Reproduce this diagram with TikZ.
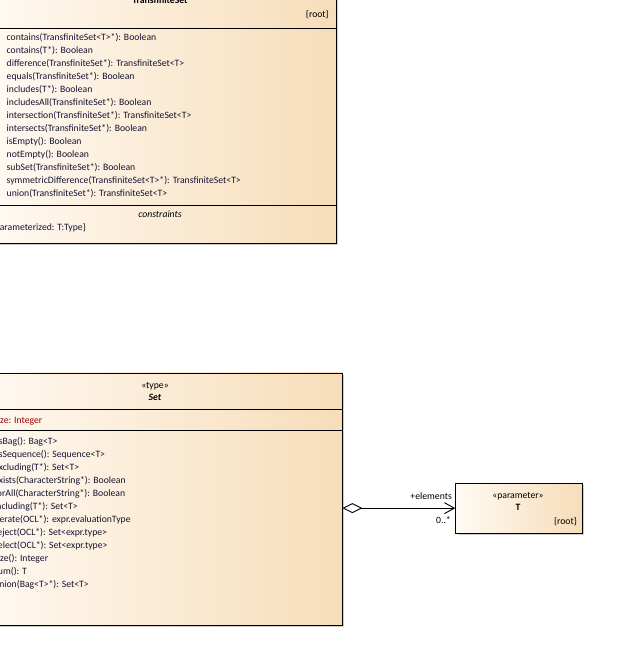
\documentclass[tikz,border=0pt]{standalone}
\usepackage{fontspec}
\setmainfont{Carlito}
\usetikzlibrary{arrows.meta,shadows}
\definecolor{boxL}{RGB}{255,250,243}
\definecolor{boxR}{RGB}{247,221,185}
\definecolor{optext}{RGB}{20,20,50}
\definecolor{attrtext}{RGB}{160,0,0}
\definecolor{shadowc}{RGB}{205,205,205}
\begin{document}
\begin{tikzpicture}[x=1pt,y=-1pt,
  umlbox/.style={draw=black,line width=0.9pt,left color=boxL,right color=boxR,
    inner sep=0pt,anchor=north west,
    drop shadow={shadow xshift=2pt,shadow yshift=-2pt,fill=shadowc,opacity=1}},
  sep/.style={draw=black,line width=0.9pt},
  basefont/.style={font=\fontsize{9.7}{11}\selectfont},
  optxt/.style={basefont,anchor=base west,inner sep=0pt,text=optext},
  attrtxt/.style={basefont,anchor=base west,inner sep=0pt,text=attrtext},
  ctrtxt/.style={basefont,anchor=base,inner sep=0pt,text=black},
  rtxt/.style={basefont,anchor=base east,inner sep=0pt,text=black},
  assoc/.style={draw=black,line width=0.9pt,
    {Diamond[open,length=20pt,width=10pt,fill=white]}-{Straight Barb[length=10pt,width=11pt]}}
]
\useasboundingbox (0,0) rectangle (635,669);
\clip (0,0) rectangle (635,669);
\fill[white] (0,0) rectangle (635,669);

% ---- TransfiniteSet box
\node[umlbox,minimum width=350.5pt,minimum height=253pt] (topbox) at (-15,-10) {};
\draw[sep] (-15,28) -- (335.5,28);
\draw[sep] (-15,205) -- (335.5,205);
\node[ctrtxt,font=\fontsize{9.7}{11}\selectfont\bfseries] (toptitle) at (160,4) {TransfiniteSet};
\node[rtxt] (toproot) at (329,18) {\{root\}};
\foreach \t [count=\i] in {contains(TransfiniteSet<T>*): Boolean,
  contains(T*): Boolean,
  difference(TransfiniteSet*): TransfiniteSet<T>,
  equals(TransfiniteSet*): Boolean,
  includes(T*): Boolean,
  includesAll(TransfiniteSet*): Boolean,
  intersection(TransfiniteSet*): TransfiniteSet<T>,
  intersects(TransfiniteSet*): Boolean,
  isEmpty(): Boolean,
  notEmpty(): Boolean,
  subSet(TransfiniteSet*): Boolean,
  symmetricDifference(TransfiniteSet<T>*): TransfiniteSet<T>,
  union(TransfiniteSet*): TransfiniteSet<T>}
  \node[optxt] (topop\i) at (6.5,{40.7+13*(\i-1)}) {\t};
\node[ctrtxt,font=\fontsize{9.7}{11}\selectfont\itshape] (topcons) at (160,217) {constraints};
\node[optxt] (topparam) at (-8.5,230) {\{parameterized: T:Type\}};

% ---- Set box
\node[umlbox,minimum width=373pt,minimum height=252pt] (setbox) at (-31.5,372.5) {};
\draw[sep] (-31.5,409.5) -- (341.5,409.5);
\draw[sep] (-31.5,430.5) -- (341.5,430.5);
\node[ctrtxt] (setster) at (155,388) {«type»};
\node[ctrtxt,font=\fontsize{9.7}{11}\selectfont\bfseries\itshape] (settitle) at (155,400.7) {Set};
\node[attrtxt] (setattr) at (-6,423) {size: Integer};
\foreach \t [count=\i] in {asBag(): Bag<T>,
  asSequence(): Sequence<T>,
  excluding(T*): Set<T>,
  exists(CharacterString*): Boolean,
  forAll(CharacterString*): Boolean,
  including(T*): Set<T>,
  iterate(OCL*): expr.evaluationType,
  reject(OCL*): Set<expr.type>,
  select(OCL*): Set<expr.type>,
  size(): Integer,
  sum(): T,
  union(Bag<T>*): Set<T>}
  \node[optxt] (setop\i) at (-6,{444+13*(\i-1)}) {\t};

% ---- T box
\node[umlbox,minimum width=126.7pt,minimum height=50pt] (tbox) at (455.3,482.7) {};
\node[ctrtxt] (tster) at (518,498) {«parameter»};
\node[ctrtxt,font=\fontsize{9.7}{11}\selectfont\bfseries] (ttitle) at (518,510.7) {T};
\node[rtxt] (troot) at (577,524) {\{root\}};

% ---- association
\draw[assoc] (setbox.east |- tbox.west) -- (tbox.west);
\node[rtxt] (elemlbl) at (452,499) {+elements};
\node[rtxt] (multlbl) at (451,523) {0..*};
\end{tikzpicture}
\end{document}
